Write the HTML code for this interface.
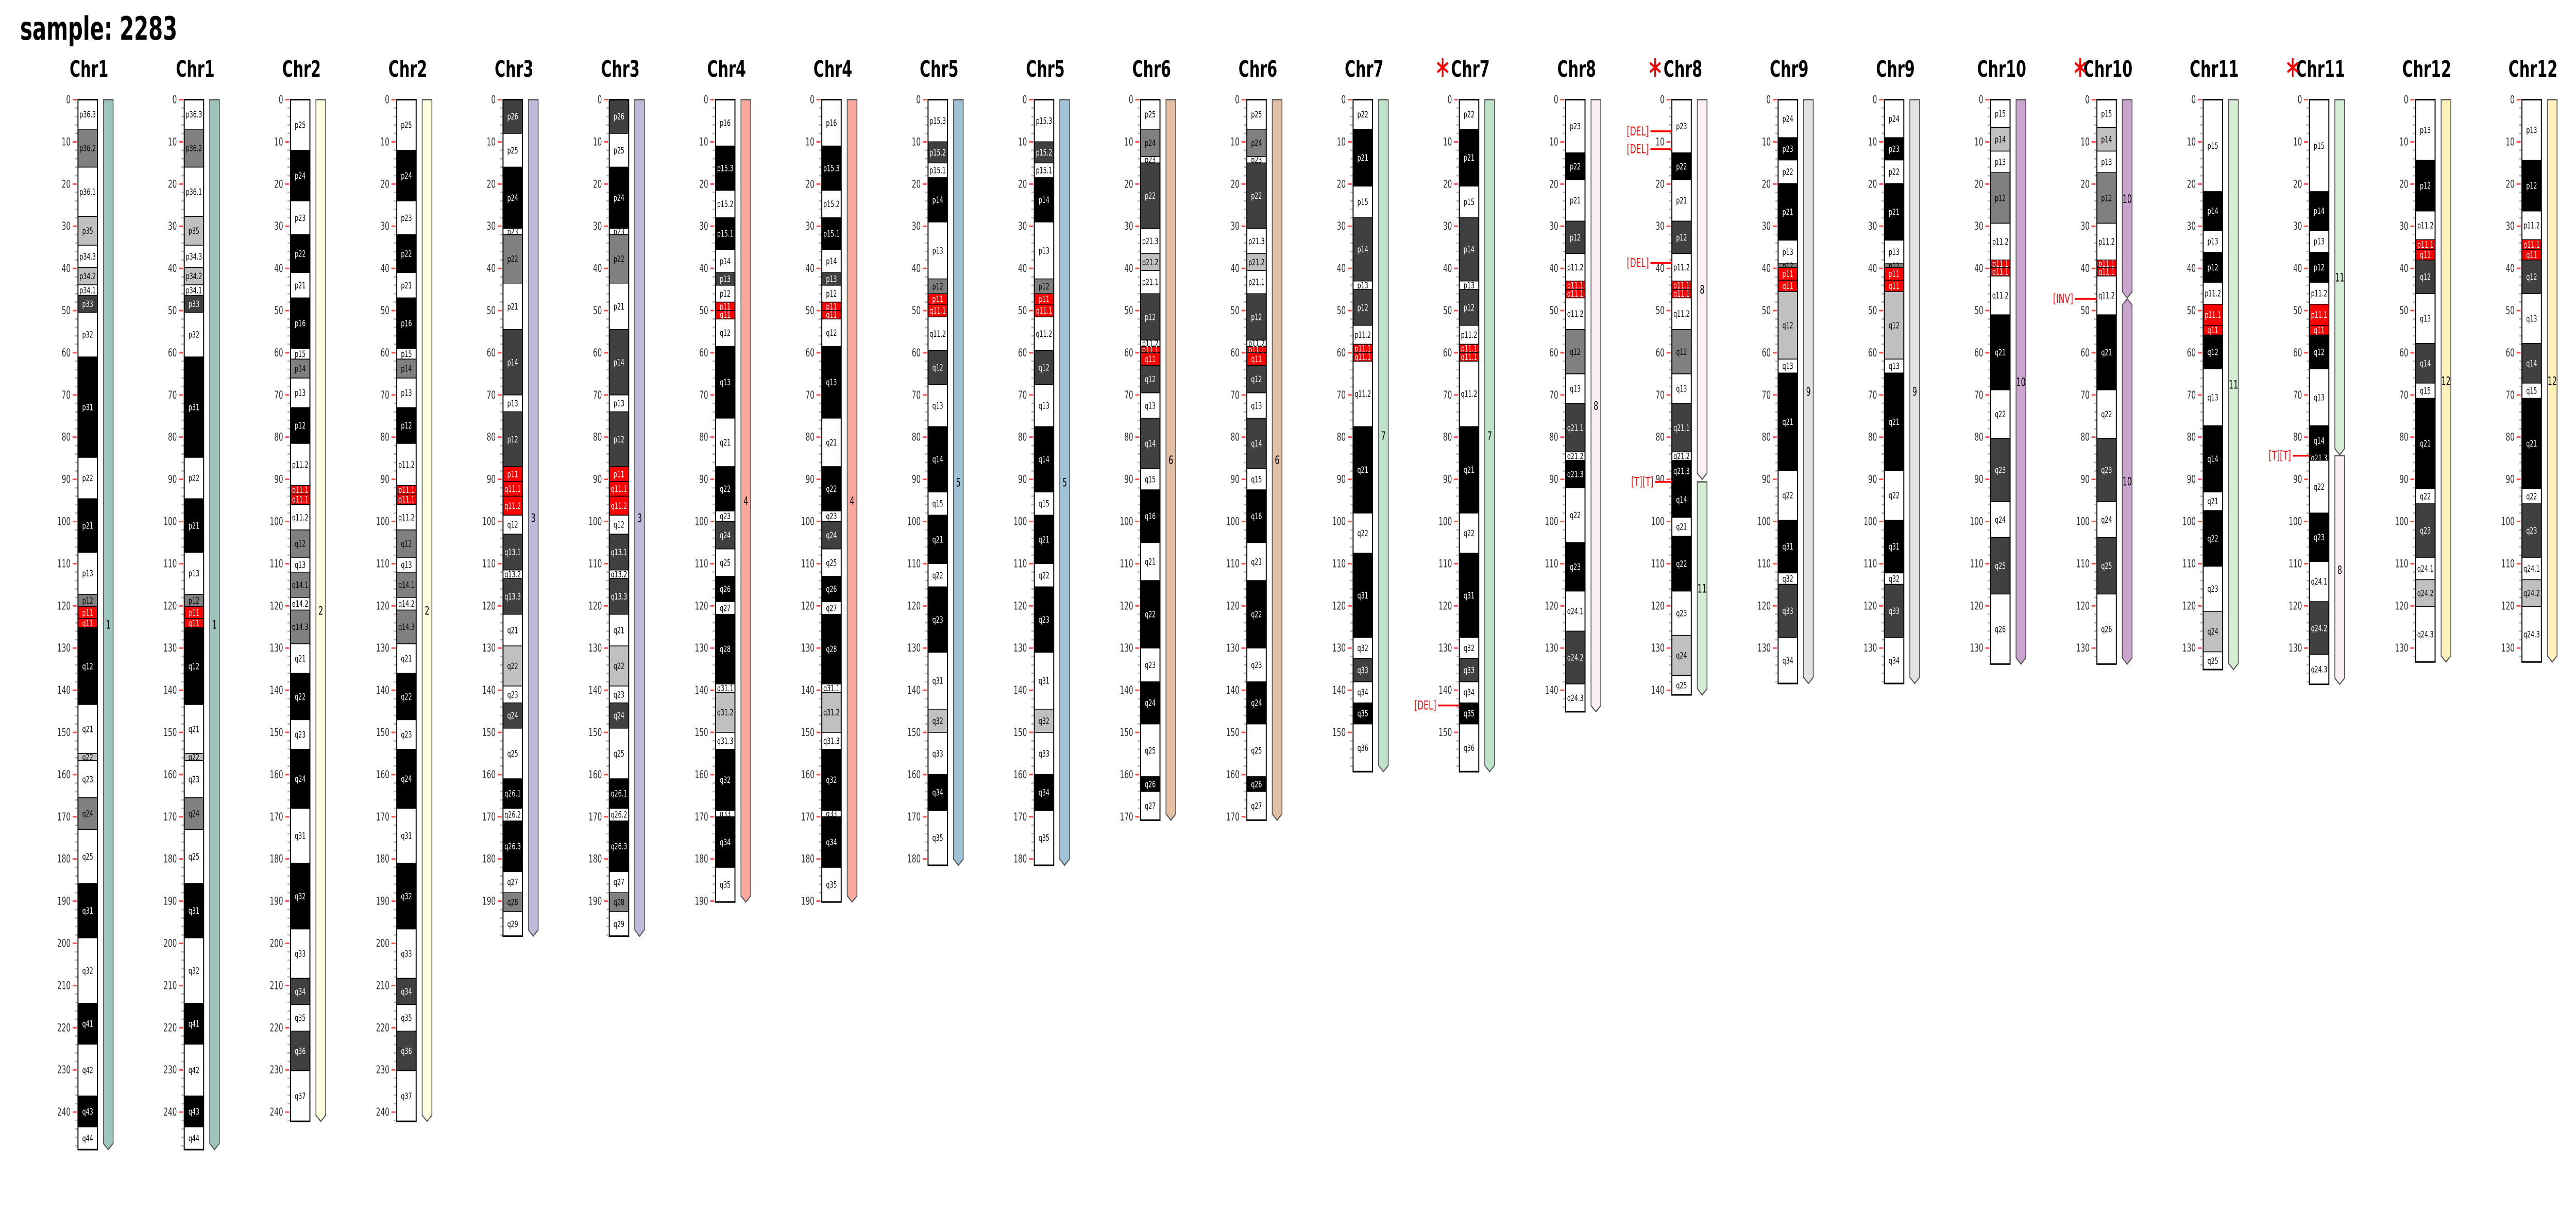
<!DOCTYPE html>
<html><head><meta charset="utf-8"><title>sample: 2283 karyotype</title>
<style>html,body{margin:0;padding:0;background:#fff;overflow:hidden}svg{display:block;width:100vw;height:100vh}</style></head>
<body>
<svg id="chart" xmlns="http://www.w3.org/2000/svg" viewBox="0 0 7697 2357" preserveAspectRatio="none" font-family="DejaVu Sans, Liberation Sans, sans-serif">
<rect width="7697" height="2357" fill="#fff"/>
<text x="60" y="77" font-size="62" font-weight="bold" fill="#000">sample: 2283</text>
<g id="plot"></g>
</svg>
<script>
const bands1=[["p36.3",0,7,"n"],["p36.2",7,16,"g50"],["p36.1",16,27.7,"n"],["p35",27.7,34.5,"g25"],["p34.3",34.5,39.8,"n"],["p34.2",39.8,43.9,"g25"],["p34.1",43.9,46.4,"n"],["p33",46.4,50.4,"g75"],["p32",50.4,61,"n"],["p31",61,84.8,"g100"],["p22",84.8,94.6,"n"],["p21",94.6,107.3,"g100"],["p13",107.3,117.3,"n"],["p12",117.3,120.2,"g50"],["p11",120.2,123,"acen"],["q11",123,125.2,"acen"],["q12",125.2,143.4,"g100"],["q21",143.4,155,"n"],["q22",155,156.7,"g25"],["q23",156.7,165.5,"n"],["q24",165.5,173,"g50"],["q25",173,185.8,"n"],["q31",185.8,198.7,"g100"],["q32",198.7,214.2,"n"],["q41",214.2,223.9,"g100"],["q42",223.9,236.2,"n"],["q43",236.2,243.5,"g100"],["q44",243.5,248.9,"n"]];
const bands2=[["p25",0,12,"n"],["p24",12,24,"g100"],["p23",24,32,"n"],["p22",32,41,"g100"],["p21",41,47,"n"],["p16",47,59,"g100"],["p15",59,61.5,"n"],["p14",61.5,66,"g50"],["p13",66,73,"n"],["p12",73,81.5,"g100"],["p11.2",81.5,91.5,"n"],["p11.1",91.5,93.5,"acen"],["q11.1",93.5,96,"acen"],["q11.2",96,102,"n"],["q12",102,108.5,"g50"],["q13",108.5,112,"n"],["q14.1",112,118,"g50"],["q14.2",118,121,"n"],["q14.3",121,129,"g50"],["q21",129,136,"n"],["q22",136,147,"g100"],["q23",147,154,"n"],["q24",154,168,"g100"],["q31",168,181,"n"],["q32",181,196.6,"g100"],["q33",196.6,208.3,"n"],["q34",208.3,214.5,"g75"],["q35",214.5,220.8,"n"],["q36",220.8,230.2,"g75"],["q37",230.2,242.2,"n"]];
const bands3=[["p26",0,8,"g75"],["p25",8,16,"n"],["p24",16,30.5,"g100"],["p23",30.5,32,"n"],["p22",32,43.5,"g50"],["p21",43.5,54.5,"n"],["p14",54.5,70,"g75"],["p13",70,74,"n"],["p12",74,87,"g75"],["p11",87,90.5,"acen"],["q11.1",90.5,94,"acen"],["q11.2",94,98.5,"acen"],["q12",98.5,103,"n"],["q13.1",103,111.5,"g75"],["q13.2",111.5,113.5,"n"],["q13.3",113.5,122,"g75"],["q21",122,129.5,"n"],["q22",129.5,139,"g25"],["q23",139,143,"n"],["q24",143,149,"g75"],["q25",149,161,"n"],["q26.1",161,168,"g100"],["q26.2",168,171,"n"],["q26.3",171,183,"g100"],["q27",183,188,"n"],["q28",188,192.5,"g50"],["q29",192.5,198.3,"n"]];
const bands4=[["p16",0,11,"n"],["p15.3",11,21.5,"g100"],["p15.2",21.5,28,"n"],["p15.1",28,35.5,"g100"],["p14",35.5,41,"n"],["p13",41,44,"g75"],["p12",44,48,"n"],["p11",48,50,"acen"],["q11",50,52,"acen"],["q12",52,58.5,"n"],["q13",58.5,75.5,"g100"],["q21",75.5,87,"n"],["q22",87,97.5,"g100"],["q23",97.5,100,"n"],["q24",100,106.5,"g75"],["q25",106.5,113,"n"],["q26",113,119,"g100"],["q27",119,122,"n"],["q28",122,138.5,"g100"],["q31.1",138.5,140.5,"n"],["q31.2",140.5,150,"g25"],["q31.3",150,154,"n"],["q32",154,168.5,"g100"],["q33",168.5,170,"n"],["q34",170,182,"g100"],["q35",182,190.2,"n"]];
const bands5=[["p15.3",0,10,"n"],["p15.2",10,15,"g75"],["p15.1",15,18.5,"n"],["p14",18.5,29,"g100"],["p13",29,42.5,"n"],["p12",42.5,46,"g50"],["p11",46,48.5,"acen"],["q11.1",48.5,51.5,"acen"],["q11.2",51.5,59.5,"n"],["q12",59.5,67.5,"g75"],["q13",67.5,77.5,"n"],["q14",77.5,93,"g100"],["q15",93,98.5,"n"],["q21",98.5,110,"g100"],["q22",110,115.5,"n"],["q23",115.5,131,"g100"],["q31",131,144.5,"n"],["q32",144.5,150,"g25"],["q33",150,160,"n"],["q34",160,168.5,"g100"],["q35",168.5,181.5,"n"]];
const bands6=[["p25",0,7,"n"],["p24",7,13.5,"g50"],["p23",13.5,15,"n"],["p22",15,30.5,"g75"],["p21.3",30.5,36.5,"n"],["p21.2",36.5,40.5,"g25"],["p21.1",40.5,46,"n"],["p12",46,57,"g75"],["p11.2",57,58.5,"n"],["p11.1",58.5,60,"acen"],["q11",60,63,"acen"],["q12",63,69.5,"g75"],["q13",69.5,75.5,"n"],["q14",75.5,87.5,"g75"],["q15",87.5,92.5,"n"],["q16",92.5,105,"g100"],["q21",105,114,"n"],["q22",114,130,"g100"],["q23",130,138,"n"],["q24",138,148,"g100"],["q25",148,160.5,"n"],["q26",160.5,164,"g100"],["q27",164,170.8,"n"]];
const bands7=[["p22",0,7,"n"],["p21",7,20.5,"g100"],["p15",20.5,28,"n"],["p14",28,43,"g75"],["p13",43,45,"n"],["p12",45,53.5,"g75"],["p11.2",53.5,58,"n"],["p11.1",58,60,"acen"],["q11.1",60,62,"acen"],["q11.2",62,77.5,"n"],["q21",77.5,98,"g100"],["q22",98,107.5,"n"],["q31",107.5,127.5,"g100"],["q32",127.5,132.5,"n"],["q33",132.5,138,"g75"],["q34",138,143,"n"],["q35",143,148,"g100"],["q36",148,159.3,"n"]];
const bands8=[["p23",0,12.6,"n"],["p22",12.6,19,"g100"],["p21",19,28.8,"n"],["p12",28.8,36.5,"g75"],["p11.2",36.5,43,"n"],["p11.1",43,45,"acen"],["q11.1",45,47,"acen"],["q11.2",47,54.5,"n"],["q12",54.5,65,"g50"],["q13",65,72,"n"],["q21.1",72,83.5,"g75"],["q21.2",83.5,85.5,"n"],["q21.3",85.5,92,"g100"],["q22",92,105,"n"],["q23",105,116.5,"g100"],["q24.1",116.5,126,"n"],["q24.2",126,138.5,"g75"],["q24.3",138.5,145.1,"n"]];
const bandsDer8=[["p23",0,12.6,"n"],["p22",12.6,19,"g100"],["p21",19,28.8,"n"],["p12",28.8,36.5,"g75"],["p11.2",36.5,43,"n"],["p11.1",43,45,"acen"],["q11.1",45,47,"acen"],["q11.2",47,54.5,"n"],["q12",54.5,65,"g50"],["q13",65,72,"n"],["q21.1",72,83.5,"g75"],["q21.2",83.5,85.5,"n"],["q21.3",85.5,90.6,"g100"],["q14",90.6,99,"g100"],["q21",99,103.5,"n"],["q22",103.5,116.5,"g100"],["q23",116.5,127,"n"],["q24",127,136.5,"g25"],["q25",136.5,141.1,"n"]];
const bands9=[["p24",0,9,"n"],["p23",9,14.3,"g100"],["p22",14.3,19.9,"n"],["p21",19.9,33.3,"g100"],["p13",33.3,38.9,"n"],["p12",38.9,39.8,"g50"],["p11",39.8,42.8,"acen"],["q11",42.8,45.5,"acen"],["q12",45.5,61.5,"g25"],["q13",61.5,64.8,"n"],["q21",64.8,87.9,"g100"],["q22",87.9,99.7,"n"],["q31",99.7,112.2,"g100"],["q32",112.2,114.9,"n"],["q33",114.9,127.5,"g75"],["q34",127.5,138.4,"n"]];
const bands10=[["p15",0,6.6,"n"],["p14",6.6,12.2,"g25"],["p13",12.2,17.3,"n"],["p12",17.3,29.3,"g50"],["p11.2",29.3,38,"n"],["p11.1",38,39.8,"acen"],["q11.1",39.8,41.8,"acen"],["q11.2",41.8,51,"n"],["q21",51,68.8,"g100"],["q22",68.8,80.3,"n"],["q23",80.3,95.3,"g75"],["q24",95.3,103.8,"n"],["q25",103.8,117.2,"g75"],["q26",117.2,133.8,"n"]];
const bands11=[["p15",0,21.8,"n"],["p14",21.8,31,"g100"],["p13",31,36.2,"n"],["p12",36.2,43.3,"g100"],["p11.2",43.3,48.5,"n"],["p11.1",48.5,53.5,"acen"],["q11",53.5,55.8,"acen"],["q12",55.8,63.8,"g100"],["q13",63.8,77.3,"n"],["q14",77.3,93,"g100"],["q21",93,97.4,"n"],["q22",97.4,110.6,"g100"],["q23",110.6,121.3,"n"],["q24",121.3,130.9,"g25"],["q25",130.9,135.1,"n"]];
const bandsDer11=[["p15",0,21.8,"n"],["p14",21.8,31,"g100"],["p13",31,36.2,"n"],["p12",36.2,43.3,"g100"],["p11.2",43.3,48.5,"n"],["p11.1",48.5,53.5,"acen"],["q11",53.5,55.8,"acen"],["q12",55.8,63.8,"g100"],["q13",63.8,77.3,"n"],["q14",77.3,84.4,"g100"],["q21.3",84.4,85.5,"g100"],["q22",85.5,98,"n"],["q23",98,109.5,"g100"],["q24.1",109.5,119,"n"],["q24.2",119,131.5,"g75"],["q24.3",131.5,138.6,"n"]];
const bands12=[["p13",0,14.4,"n"],["p12",14.4,26.4,"g100"],["p11.2",26.4,33.2,"n"],["p11.1",33.2,35.5,"acen"],["q11",35.5,38,"acen"],["q12",38,46,"g75"],["q13",46,57.8,"n"],["q14",57.8,67.2,"g75"],["q15",67.2,70.8,"n"],["q21",70.8,92.2,"g100"],["q22",92.2,95.8,"n"],["q23",95.8,108.5,"g75"],["q24.1",108.5,113.8,"n"],["q24.2",113.8,120.2,"g25"],["q24.3",120.2,133.3,"n"]];

const columnLabels=["Chr1","Chr1","Chr2","Chr2","Chr3","Chr3","Chr4","Chr4","Chr5","Chr5","Chr6","Chr6","Chr7","Chr7","Chr8","Chr8","Chr9","Chr9","Chr10","Chr10","Chr11","Chr11","Chr12","Chr12"];
const columnBands=[bands1,bands1,bands2,bands2,bands3,bands3,bands4,bands4,bands5,bands5,bands6,bands6,bands7,bands7,bands8,bandsDer8,bands9,bands9,bands10,bands10,bands11,bandsDer11,bands12,bands12];
const columnAberrant=[0,0,0,0,0,0,0,0,0,0,0,0,0,1,0,1,0,0,0,1,0,1,0,0];
const columnSegments=[
[["1",0,248.9,"flat"]],[["1",0,248.9,"flat"]],[["2",0,242.2,"flat"]],[["2",0,242.2,"flat"]],
[["3",0,198.3,"flat"]],[["3",0,198.3,"flat"]],[["4",0,190.2,"flat"]],[["4",0,190.2,"flat"]],
[["5",0,181.5,"flat"]],[["5",0,181.5,"flat"]],[["6",0,170.8,"flat"]],[["6",0,170.8,"flat"]],
[["7",0,159.3,"flat"]],[["7",0,159.3,"flat"]],[["8",0,145.1,"flat"]],[["8",0,90.0,"flat"],["11",90.6,141.1,"flat"]],
[["9",0,138.4,"flat"]],[["9",0,138.4,"flat"]],[["10",0,133.8,"flat"]],[["10",0,47.0,"flat"],["10",47.2,133.8,"point"]],
[["11",0,135.1,"flat"]],[["11",0,84.2,"flat"],["8",84.4,138.6,"flat"]],[["12",0,133.3,"flat"]],[["12",0,133.3,"flat"]]];
const annotations=[[13,143.6,"[DEL]",64],[15,7.5,"[DEL]",64],[15,11.7,"[DEL]",64],[15,38.7,"[DEL]",64],[15,90.6,"[T][T]",50],[19,47.2,"[INV]",66],[21,84.4,"[T][T]",50]];

const segColors={"1":"#9ec4be","2":"#ffffe0","3":"#bebada","4":"#fba89c","5":"#9ec3d6","6":"#e1c0a5","7":"#bfe3c9","8":"#fcf0f5","9":"#e2e2e2","10":"#caa5cf","11":"#d5ecd5","12":"#fff2bd"};
const stainFill={n:"#ffffff",g25:"#c0c0c0",g50:"#808080",g75:"#404040",g100:"#000000",acen:"#ff0000"};
const stainText={n:"#000",g25:"#000",g50:"#000",g75:"#fff",g100:"#fff",acen:"#fff"};

const Y0=193.5, PX=8.19, BOXW=58;
function yScale(mb){return Y0+mb*PX;}
function boxLeft(i){return 233+i*317.5;}
const NS="http://www.w3.org/2000/svg";
const plot=document.getElementById("plot");
function mk(tag,attrs,parent){const e=document.createElementNS(NS,tag);for(const k in attrs)e.setAttribute(k,attrs[k]);(parent||plot).appendChild(e);return e;}

columnLabels.forEach((lab,i)=>{
  const bands=columnBands[i];
  const len=bands[bands.length-1][2];
  const bl=boxLeft(i);
  const g=mk("g",{});
  
  
  const t=mk("text",{x:bl+33,y:149,"text-anchor":"middle","font-size":44,"font-weight":"bold",fill:"#000"},g);
  t.textContent=lab;
  
  
  if(columnAberrant[i]){
    const cx=bl+33-83, cy=131, r=18;
    const a=mk("g",{stroke:"#ff0000","stroke-width":5},g);
    
    
    for(const ang of [90,30,150]){const rad=ang*Math.PI/180;mk("line",{x1:cx-r*Math.cos(rad),y1:cy-r*Math.sin(rad),x2:cx+r*Math.cos(rad),y2:cy+r*Math.sin(rad)},a);}
  }
  const ax=mk("g",{},g);
  
  
  for(let m=0;m<=len+0.001;m+=2){
    const yy=yScale(m);
    if(m%10===0){
      mk("line",{x1:bl-16,x2:bl-4,y1:yy,y2:yy,stroke:"#ff4d4d","stroke-width":3},ax);
      const tl=mk("text",{x:bl-22,y:yy+7,"text-anchor":"end","font-size":21,fill:"#333"},ax);
      tl.textContent=m;
      
      
    } else {
      mk("line",{x1:bl-9,x2:bl-1,y1:yy,y2:yy,stroke:"#bbbbbb","stroke-width":3},ax);
    }
  }
  bands.forEach(b=>{
    const y1=yScale(b[1]), y2=yScale(b[2]);
    const r=mk("rect",{x:bl,y:y1,width:BOXW,height:y2-y1,fill:stainFill[b[3]],stroke:"#000","stroke-width":1.5},g);
    
    
    const bt=mk("text",{x:bl+BOXW/2,y:(y1+y2)/2+6,"text-anchor":"middle","font-size":17,fill:stainText[b[3]]},g);
    bt.textContent=b[0];
    
    
  });
  const outline=mk("rect",{x:bl,y:yScale(0),width:BOXW,height:yScale(len)-yScale(0),fill:"none",stroke:"#000","stroke-width":3},g);
  
  
  columnSegments[i].forEach(s=>{
    const x1=bl+76, x2=x1+29, xm=(x1+x2)/2, ya=yScale(s[1]), yb=yScale(s[2]);
    const top=s[3]==="point"?`${x1},${ya+12} ${xm},${ya} ${x2},${ya+12}`:`${x1},${ya} ${x2},${ya}`;
    const p=mk("polygon",{points:`${top} ${x2},${yb-12} ${xm},${yb} ${x1},${yb-12}`,fill:segColors[s[0]],stroke:"#555","stroke-width":2.5},g);
    
    
    const st=mk("text",{x:xm,y:(ya+yb)/2+8,"text-anchor":"middle","font-size":22,fill:"#000"},g);
    st.textContent=s[0];
    
    
  });
});
annotations.forEach(a=>{
  const bl=boxLeft(a[0]), yy=yScale(a[1]);
  const g=mk("g",{});
  
  
  mk("line",{x1:bl-a[3],x2:bl,y1:yy,y2:yy,stroke:"#ff0000","stroke-width":3.5},g);
  const t=mk("text",{x:bl-a[3]-5,y:yy+8,"text-anchor":"end","font-size":24,fill:"#ff0000"},g);
  t.textContent=a[2];
});
</script>
</body></html>
